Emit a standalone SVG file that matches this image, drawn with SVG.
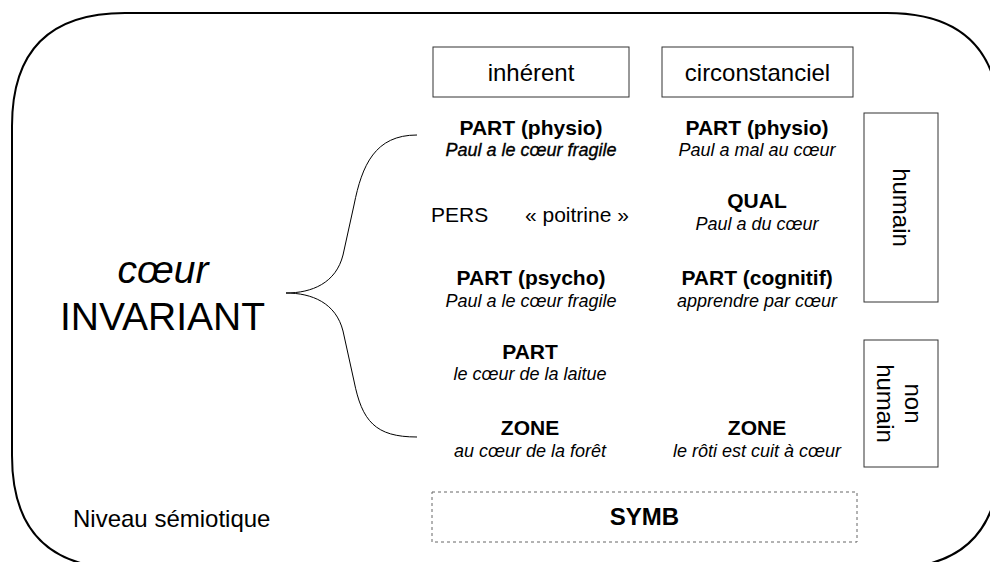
<svg xmlns="http://www.w3.org/2000/svg" width="990" height="562" viewBox="0 0 990 562">
<style>
text{font-family:"Liberation Sans",Arial,sans-serif;fill:#000}
.b{font-weight:bold;font-size:21px;text-anchor:middle}
.i{font-style:italic;font-size:18px;text-anchor:middle}
.l{font-size:24px;text-anchor:middle}
.n{font-size:21px}
.box{fill:#fff;stroke:#333;stroke-width:1}
</style>
<rect width="990" height="562" fill="#fff"/>
<g id="frame">
<path d="M125 13 L887 13 Q1000 13 1000 126 L1000 455.6 Q1000 568.6 887 568.6 L125 568.6 Q12 568.6 12 455.6 L12 126 Q12 13 125 13 Z" fill="none" stroke="#000" stroke-width="2"/>
</g>
<g id="invariant">
<text x="163" y="283" style="font-size:39px;font-style:italic;text-anchor:middle">cœur</text>
<text x="162.5" y="330" style="font-size:39px;text-anchor:middle">INVARIANT</text>
</g>
<g id="connectors">
<path d="M417 135 C375 135 362 165 354 205 L343 255 C336 283 312 293 286 293 C312 293 336 303 343 331 L354 381 C362 421 375 437 417 437" fill="none" stroke="#000" stroke-width="1"/>
</g>
<g id="inherent">
<rect class="box" x="433" y="47" width="196" height="50"/>
<text class="l" x="531" y="80.5">inhérent</text>
</g>
<g id="circonstanciel">
<rect class="box" x="662" y="47" width="191" height="50"/>
<text class="l" x="757.5" y="80.5">circonstanciel</text>
</g>
<g id="part-physio-inh">
<text class="b" x="531" y="135">PART (physio)</text>
<text class="i" x="531" y="156" stroke="#000" stroke-width="0.35">Paul a le cœur fragile</text>
</g>
<g id="part-physio-circ">
<text class="b" x="757" y="135">PART (physio)</text>
<text class="i" x="757" y="156">Paul a mal au cœur</text>
</g>
<g id="pers">
<text class="n" x="431" y="222">PERS</text>
<text class="n" x="525" y="222">« poitrine »</text>
</g>
<g id="qual">
<text class="b" x="757" y="208">QUAL</text>
<text class="i" x="757" y="230">Paul a du cœur</text>
</g>
<g id="part-psycho">
<text class="b" x="531" y="285">PART (psycho)</text>
<text class="i" x="531" y="307">Paul a le cœur fragile</text>
</g>
<g id="part-cognitif">
<text class="b" x="757" y="285">PART (cognitif)</text>
<text class="i" x="757" y="307">apprendre par cœur</text>
</g>
<g id="part-laitue">
<text class="b" x="530" y="359">PART</text>
<text class="i" x="530" y="380">le cœur de la laitue</text>
</g>
<g id="zone-inh">
<text class="b" x="530" y="435">ZONE</text>
<text class="i" x="530" y="457">au cœur de la forêt</text>
</g>
<g id="zone-circ">
<text class="b" x="757" y="435">ZONE</text>
<text class="i" x="757" y="457">le rôti est cuit à cœur</text>
</g>
<g id="humain">
<rect class="box" x="864" y="113" width="74" height="189"/>
<text class="l" transform="translate(901 207.5) rotate(90)" y="8">humain</text>
</g>
<g id="non-humain">
<rect class="box" x="864" y="340" width="74" height="127"/>
<text class="l" transform="translate(901 403.5) rotate(90)"><tspan x="0" y="-3.6">non</tspan><tspan x="0" y="24">humain</tspan></text>
</g>
<g id="niveau">
<text x="73" y="527" style="font-size:24px">Niveau sémiotique</text>
</g>
<g id="symb">
<rect x="432" y="492" width="425" height="50" fill="#fff" stroke="#666" stroke-width="1" stroke-dasharray="3 3"/>
<text class="l" x="644.5" y="525" font-weight="bold">SYMB</text>
</g>
</svg>
